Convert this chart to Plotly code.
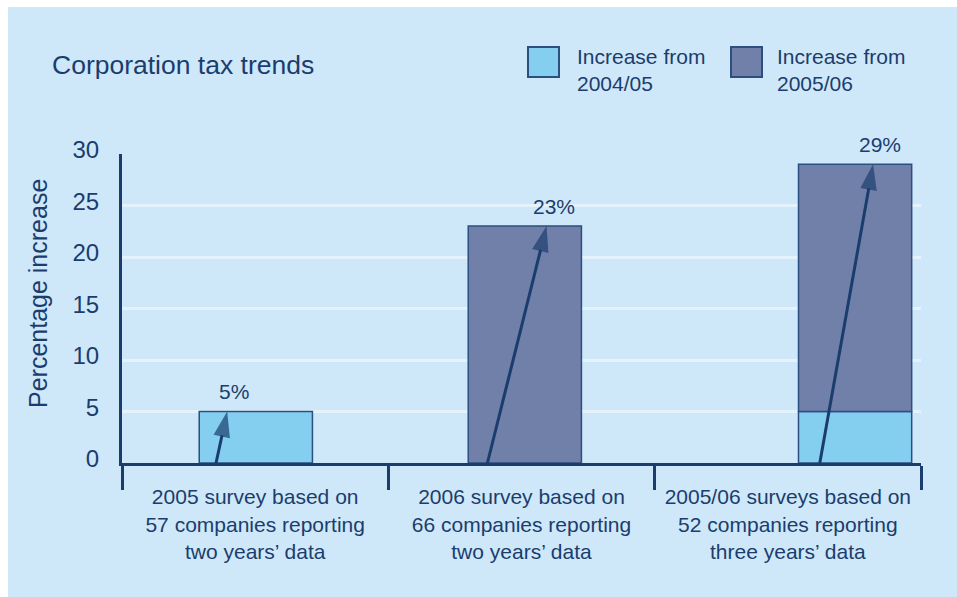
import plotly.graph_objects as go

# ---- data -------------------------------------------------------------
categories = [
    "2005 survey based on<br>57 companies reporting<br>two years’ data",
    "2006 survey based on<br>66 companies reporting<br>two years’ data",
    "2005/06 surveys based on<br>52 companies reporting<br>three years’ data",
]
increase_from_0405 = [5, 0, 5]
increase_from_0506 = [0, 23, 24]
series_names = ["Increase from<br>2004/05", "Increase from<br>2005/06"]
y_ticks = [0, 5, 10, 15, 20, 25, 30]

# ---- styling ------------------------------------------------------------
FONT = "Liberation Sans, Arial, Helvetica, sans-serif"
BG = "#cee8f9"
LIGHT = "#84cef0"
DARK = "#7180a9"
NAVY = "#1b3d6d"
EDGE = "#2c4e80"
GRID = "#e4f2fc"

W, H = 957, 597
L, R, T, B = 122, 36, 154, 134
PW, PH = W - L - R, H - T - B

BAR_WIDTH = 0.425
bar_offsets = [-0.21, -0.20, 0.04]      # left edge of each bar relative to its slot centre
arrow_tail = [-0.147, -0.128, 0.12]     # arrow start, relative to slot centre
arrow_tip = [-0.105, 0.094, 0.32]       # arrow end, relative to slot centre


def px(x):
    return (x - L) / PW


def py(y):
    return (H - B - y) / PH


centres = [i + 0.5 for i in range(len(categories))]
totals = [a + b for a, b in zip(increase_from_0405, increase_from_0506)]

fig = go.Figure()

# light segments
idx = [i for i, v in enumerate(increase_from_0405) if v > 0]
fig.add_trace(go.Bar(
    x=[centres[i] for i in idx], y=[increase_from_0405[i] for i in idx],
    base=[0 for _ in idx], width=BAR_WIDTH, offset=[bar_offsets[i] for i in idx],
    marker=dict(color=LIGHT, line=dict(color=EDGE, width=1.5)),
    name=series_names[0], showlegend=False, hoverinfo="skip",
))
# dark segments stacked on the light ones
idx = [i for i, v in enumerate(increase_from_0506) if v > 0]
fig.add_trace(go.Bar(
    x=[centres[i] for i in idx], y=[increase_from_0506[i] for i in idx],
    base=[increase_from_0405[i] for i in idx], width=BAR_WIDTH,
    offset=[bar_offsets[i] for i in idx],
    marker=dict(color=DARK, line=dict(color=EDGE, width=1.5)),
    name=series_names[1], showlegend=False, hoverinfo="skip",
))

# rising arrows from the baseline to each total
for i, tot in enumerate(totals):
    fig.add_trace(go.Scatter(
        x=[centres[i] + arrow_tail[i], centres[i] + arrow_tip[i]], y=[0, tot],
        mode="lines+markers",
        line=dict(color=NAVY, width=3),
        marker=dict(symbol="arrow", size=[0, 27], angleref="previous",
                    color=NAVY, line=dict(width=0)),
        showlegend=False, hoverinfo="skip", cliponaxis=False,
    ))

annotations = []
for i, tot in enumerate(totals):
    annotations.append(dict(
        x=centres[i] + arrow_tip[i], y=tot, xref="x", yref="y",
        text=f"{tot}%", showarrow=False, xshift=7, yshift=20,
        font=dict(family=FONT, size=21, color=NAVY),
    ))

# y-axis title
annotations.append(dict(
    x=px(38), y=py(294), xref="paper", yref="paper", text="Percentage increase",
    textangle=-90, showarrow=False, xanchor="center", yanchor="middle",
    font=dict(family=FONT, size=25, color=NAVY),
))

# legend
shapes = []
legend_boxes = [(528, 575, LIGHT), (731, 775, DARK)]
for (bx, tx, col), name in zip(legend_boxes, series_names):
    shapes.append(dict(type="rect", xref="paper", yref="paper",
                       x0=px(bx), x1=px(bx + 31), y0=py(77), y1=py(47),
                       fillcolor=col, line=dict(color=EDGE, width=2)))
    annotations.append(dict(
        x=px(tx), y=py(43), xref="paper", yref="paper", text=name,
        showarrow=False, xanchor="left", yanchor="top", align="left",
        font=dict(family=FONT, size=21, color=NAVY),
    ))

# white frame strips on the top and left edges
shapes.append(dict(type="rect", xref="paper", yref="paper", x0=px(0), x1=px(W),
                   y0=py(7), y1=py(0), fillcolor="white", line=dict(width=0)))
shapes.append(dict(type="rect", xref="paper", yref="paper", x0=px(0), x1=px(8),
                   y0=py(H), y1=py(0), fillcolor="white", line=dict(width=0)))

fig.update_layout(
    width=W, height=H,
    margin=dict(l=L, r=R, t=T, b=B, pad=0),
    paper_bgcolor=BG, plot_bgcolor=BG,
    barmode="overlay",
    font=dict(family=FONT, color=NAVY),
    title=dict(text="Corporation tax trends", x=52 / W, xanchor="left",
               y=1 - 65 / H, yanchor="middle",
               font=dict(family=FONT, size=26.5, color=NAVY)),
    xaxis=dict(
        range=[0, len(categories)], tickmode="array", tickvals=centres,
        ticktext=categories, ticks="outside", ticklen=13, tickcolor="rgba(0,0,0,0)",
        tickfont=dict(family=FONT, size=21, color=NAVY),
        showline=True, linecolor=NAVY, linewidth=3, showgrid=False, zeroline=False,
        minor=dict(tickmode="array", tickvals=list(range(len(categories) + 1)),
                   ticks="outside", ticklen=24, tickwidth=3, tickcolor=NAVY,
                   showgrid=False),
    ),
    yaxis=dict(
        range=[0, 30], tickmode="array", tickvals=y_ticks,
        tickfont=dict(family=FONT, size=24, color=NAVY),
        showline=True, linecolor=NAVY, linewidth=3,
        showgrid=True, gridcolor=GRID, gridwidth=2.5, zeroline=False,
        ticks="", ticklabelstandoff=15, ticklabelshift=-4,
    ),
    shapes=shapes,
    annotations=annotations,
)

fig.write_html("out.html")
